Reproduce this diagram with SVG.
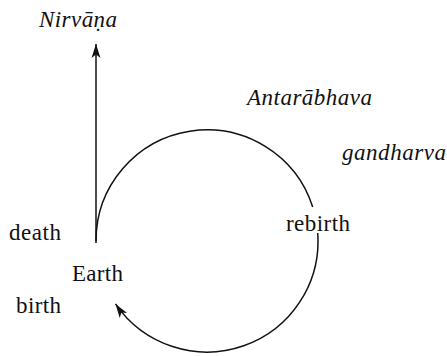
<svg xmlns="http://www.w3.org/2000/svg" width="447" height="356" viewBox="0 0 447 356">
<style>
.ln{fill:none;stroke:#111;stroke-width:1.5}
</style>
<defs>
<marker id="ah" viewBox="-15 -5 16 10" refX="0" refY="0" markerWidth="16" markerHeight="10" markerUnits="userSpaceOnUse" orient="auto">
<path d="M0,0 L-14,-4.5 L-10.5,0 L-14,4.5 Z" fill="#111"/>
</marker>
</defs>
<rect width="447" height="356" fill="#fff"/>
<g id="connectors">
<path class="ln" d="M96,243 L96,44" marker-end="url(#ah)"/>
<path class="ln" d="M96,241 A111,111 0 0 1 312.7,207"/>
<path class="ln" d="M317.7,233 A111,111 0 0 1 115.5,303.9" marker-end="url(#ah)"/>
</g>
<g font-family="Liberation Serif, Times New Roman, Times, serif" font-size="23" fill="#111">
<g id="nirvana"><text font-style="italic" x="39" y="27" textLength="78">Nirvāṇa</text></g>
<g id="antarabhava"><text font-style="italic" x="247" y="105" textLength="125">Antarābhava</text></g>
<g id="gandharva"><text font-style="italic" x="342" y="160" textLength="104">gandharva</text></g>
<g id="rebirth"><text x="286" y="231" textLength="64">rebirth</text></g>
<g id="death"><text x="9" y="240" textLength="52">death</text></g>
<g id="earth"><text x="72" y="281" textLength="51">Earth</text></g>
<g id="birth"><text x="16" y="313" textLength="45">birth</text></g>
</g>
</svg>
